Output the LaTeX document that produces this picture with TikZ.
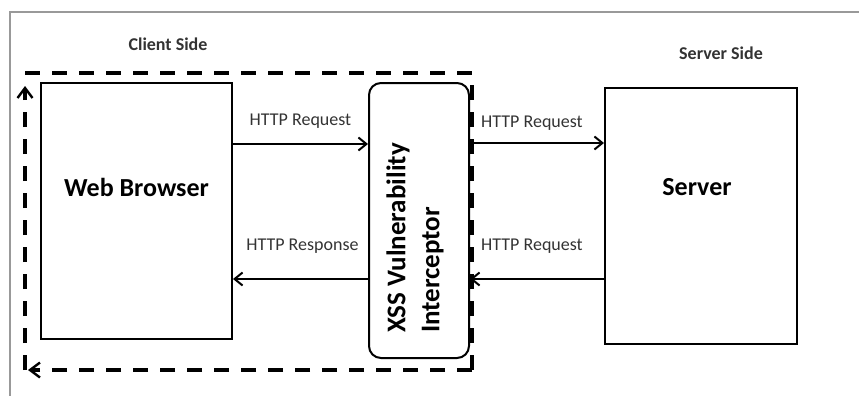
\documentclass[tikz,border=0pt]{standalone}
\usepackage{fontspec}
\setmainfont{Carlito}
\usetikzlibrary{arrows.meta}

\begin{document}
\begin{tikzpicture}[x=1pt,y=-1pt]
                \tikzset{Box/.style={%
                    draw=black,%
                    line width=2pt,%
                    inner sep=0pt,%
                    font=\bfseries\fontsize{26}{30}\selectfont,%
                },
                Flow/.style={%
                    line width=2.4pt,%
                    -{Straight Barb[length=8pt,width=13pt,line width=2pt]},%
                },
                Tag/.style={%
                    text=black!80,%
                    font=\fontsize{18}{20}\selectfont,%
                },
                Fence/.style={%
                    line width=3.6pt,%
                    dash pattern=on 15pt off 12pt,%
                },
                Side/.style={%
                    text=black!80,%
                    font=\bfseries\fontsize{18}{20}\selectfont,%
                }}

                \useasboundingbox (0,0) rectangle (859,396);

                % outer frame
                \draw[black!40, line width=2pt] (10,396) -- (10,12) -- (859,12);

                % dashed client area
                \coordinate (cnw) at (25,73);
                \coordinate (cne) at (472,73);
                \coordinate (cse) at (472,370);
                \coordinate (csw) at (25,370);
                \draw[Fence] (cnw) -- (cne) -- (cse);
                \draw[Fence, -{Straight Barb[length=10pt,width=15pt,line width=2.4pt]}] (cse) -- ([xshift=3pt]csw);
                \draw[Fence, -{Straight Barb[length=10pt,width=15pt,line width=2.4pt]}] (csw) -- ([yshift=-13pt]cnw);

                \node[Side] (client) at (168,44) {Client Side};
                \node[Side] (serverside) at (721,53) {Server Side};

                \node[Box, minimum width=191pt, minimum height=256pt,
                      label={[font=\bfseries\fontsize{26}{30}\selectfont, yshift=24pt]center:Web Browser}] (wb) at (136.5,211) {};
                \node[Box, rounded corners=12pt, minimum width=100pt, minimum height=275pt] (xss) at (419,220.5) {};
                \node[rotate=90, align=left, font=\bfseries\fontsize{27}{34}\selectfont] (xsstext) at (415,238) {XSS Vulnerability\\Interceptor};
                \node[Box, minimum width=192pt, minimum height=256pt,
                      label={[font=\bfseries\fontsize{26}{30}\selectfont, yshift=29pt, xshift=-4pt]center:Server}] (srv) at (701,216) {};

                \draw[Flow] (wb.east |- 0,144) -- node[Tag, above=11pt]{HTTP Request} (xss.west |- 0,144);
                \draw[Flow] (xss.west |- 0,279) -- node[Tag, above=21pt, xshift=2pt]{HTTP Response} (wb.east |- 0,279);
                \draw[Flow] (xss.east |- 0,143) -- node[Tag, above=8pt, xshift=-5pt]{HTTP Request} (srv.west |- 0,143);
                \draw[Flow] (srv.west |- 0,279) -- node[Tag, above=21pt, xshift=-5pt]{HTTP Request} (xss.east |- 0,279);
            \end{tikzpicture}
\end{document}
